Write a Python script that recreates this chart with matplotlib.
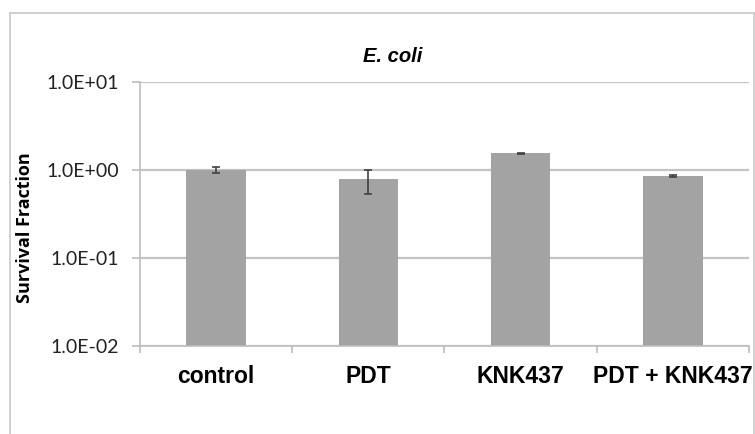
import matplotlib
matplotlib.use("Agg")
import matplotlib.pyplot as plt
from matplotlib.patches import Rectangle
import numpy as np

categories = ["control", "PDT", "KNK437", "PDT + KNK437"]
survival = [1.0, 0.77, 1.55, 0.855]
err_low = [0.07, 0.23, 0.02, 0.015]
err_high = [0.08, 0.23, 0.02, 0.015]
ytick_vals = [1e-2, 1e-1, 1e0, 1e1]
ytick_labels = ["1.0E-02", "1.0E-01", "1.0E+00", "1.0E+01"]

W, H = 755, 434
fig = plt.figure(figsize=(W / 100, H / 100), dpi=100)
fig.patch.set_facecolor("white")

# outer chart-area border
fig.patches.append(Rectangle((10 / W, -0.1), (754 - 10) / W, 1 - 13 / H + 0.1,
                             transform=fig.transFigure, fill=False,
                             edgecolor="#c8c8c8", linewidth=1.2))

AX_L, AX_R, AX_T, AX_B = 140, 749, 82, 346
ax = fig.add_axes([AX_L / W, 1 - AX_B / H, (AX_R - AX_L) / W, (AX_B - AX_T) / H])
x = np.arange(len(categories))
ax.set_yscale("log")
ax.set_ylim(1e-2, 1e1)
ax.set_xlim(-0.5, len(categories) - 0.5)

ax.yaxis.grid(True, color="#c4c4c4", linewidth=1.6)
ax.set_axisbelow(True)
ax.bar(x, survival, width=0.39, color="#a3a3a3", bottom=1e-2, zorder=2)
ax.errorbar(x, survival, yerr=[err_low, err_high], fmt="none",
            ecolor="#404040", elinewidth=1.2, capsize=3, capthick=1.2, zorder=3)

for s in ["top", "right"]:
    ax.spines[s].set_visible(False)
ax.spines["left"].set_color("#bdbdbd")
ax.spines["bottom"].set_color("#bdbdbd")
ax.spines["left"].set_linewidth(1.2)
ax.spines["bottom"].set_linewidth(1.2)

ax.set_yticks(ytick_vals)
ax.set_yticklabels(ytick_labels, fontfamily="Lato", fontsize=14, color="#222222")
ax.yaxis.set_minor_locator(matplotlib.ticker.NullLocator())
ax.tick_params(axis="y", length=6, color="#bdbdbd", width=1.2, pad=9)

ax.set_xticks(x)
ax.set_xticklabels(categories, fontfamily="Liberation Sans", fontweight="bold", fontsize=16.5)
ax.set_xticks(np.arange(len(categories) + 1) - 0.5, minor=True)
ax.tick_params(axis="x", which="major", length=0, pad=14)
ax.tick_params(axis="x", which="minor", length=5, color="#bdbdbd", width=1.2)

ax.set_ylabel("Survival Fraction", fontfamily="Open Sans", fontweight="bold", fontsize=13)
ax.yaxis.set_label_coords((34 - AX_L) / (AX_R - AX_L), (AX_B - 228) / (AX_B - AX_T))

fig.text(393 / W, 1 - 57 / H, "E. coli", ha="center", va="center",
         fontfamily="Liberation Sans", fontweight="bold", fontstyle="italic", fontsize=14.5)

fig.savefig("out.png", dpi=100)
